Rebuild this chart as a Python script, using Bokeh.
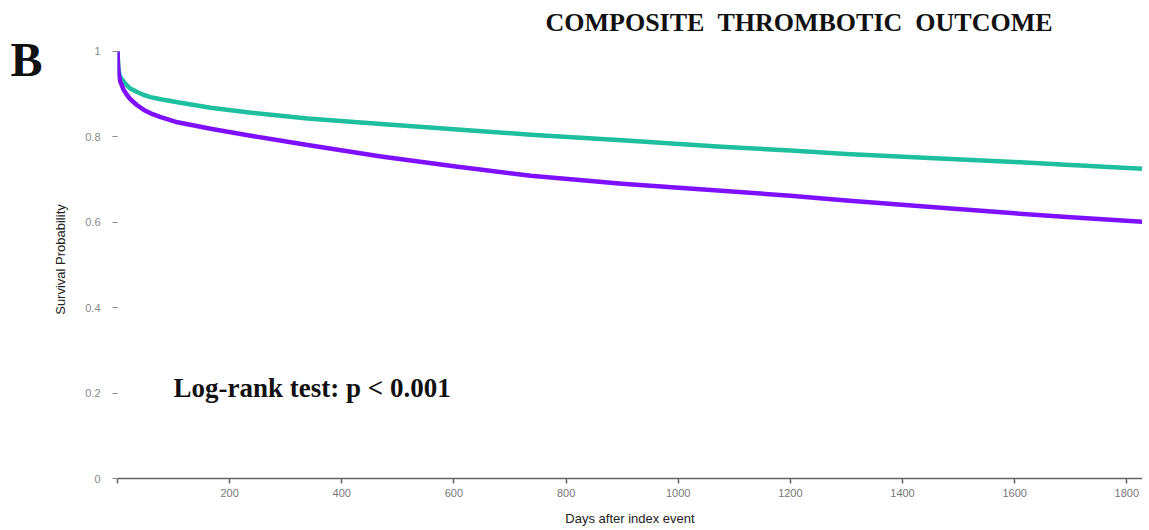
from bokeh.plotting import figure
from bokeh.models import Label, FixedTicker, Range1d, LinearAxis
from bokeh.embed import file_html
from bokeh.resources import INLINE

days = [0, 1, 2.5, 5, 11, 17, 23, 35, 47, 59, 77, 107, 166, 235, 339, 470,
        600, 737, 900, 1077, 1200, 1300, 1457, 1600, 1700, 1830]
teal_surv = [1.0, 0.975, 0.952, 0.94, 0.929, 0.92, 0.913, 0.905, 0.898, 0.893,
             0.888, 0.881, 0.868, 0.857, 0.843, 0.830, 0.818, 0.805, 0.792,
             0.777, 0.768, 0.760, 0.750, 0.741, 0.734, 0.725]
purple_surv = [1.0, 0.962, 0.943, 0.929, 0.91, 0.898, 0.888, 0.874, 0.863, 0.855,
               0.846, 0.834, 0.819, 0.803, 0.781, 0.754, 0.731, 0.709, 0.690,
               0.674, 0.662, 0.651, 0.635, 0.621, 0.612, 0.601]

x_ticks = [0, 200, 400, 600, 800, 1000, 1200, 1400, 1600, 1800]
y_ticks = [0, 0.2, 0.4, 0.6, 0.8, 1.0]
y_tick_labels = ["0", "0.2", "0.4", "0.6", "0.8", "1"]

title_text = "COMPOSITE\u00a0\u00a0THROMBOTIC\u00a0\u00a0OUTCOME"
panel_letter = "B"
logrank_text = "Log-rank test: p < 0.001"

p = figure(width=1142, height=528, output_backend="svg", toolbar_location=None,
           x_range=Range1d(0, 1828), y_range=Range1d(0, 1.0256),
           min_border_left=117, min_border_right=0, min_border_top=40,
           min_border_bottom=47)
p.outline_line_color = None
p.xgrid.grid_line_color = None
p.ygrid.grid_line_color = None

p.title.text = title_text
p.title.align = "left"
p.title.offset = 428
p.title.standoff = 8
p.title.text_font = "Liberation Serif"
p.title.text_font_style = "bold"
p.title.text_font_size = "26px"
p.title.text_color = "#111111"

p.line(days, teal_surv, line_color="#1dbf9f", line_width=4.5, line_join="round")
p.line(days, purple_surv, line_color="#7f0fff", line_width=4.5, line_join="round")

# x axis
p.xaxis.ticker = FixedTicker(ticks=x_ticks)
p.xaxis.major_label_overrides = {0: ""}
p.xaxis.axis_line_color = "#666666"
p.xaxis.axis_line_width = 1.5
p.xaxis.major_tick_line_color = "#666666"
p.xaxis.major_tick_line_width = 1.5
p.xaxis.major_tick_in = 0
p.xaxis.major_tick_out = 5
p.xaxis.minor_tick_line_color = None
p.xaxis.major_label_text_font = "Liberation Sans"
p.xaxis.major_label_text_font_size = "11px"
p.xaxis.major_label_text_color = "#777777"
p.xaxis.major_label_standoff = 5
p.xaxis.axis_label = "Days after index event"
p.xaxis.axis_label_text_font = "Liberation Sans"
p.xaxis.axis_label_text_font_style = "normal"
p.xaxis.axis_label_text_font_size = "13px"
p.xaxis.axis_label_text_color = "#222222"
p.xaxis.axis_label_standoff = 11

# y axis
p.yaxis.ticker = FixedTicker(ticks=y_ticks)
p.yaxis.major_label_overrides = {t: l for t, l in zip(y_ticks, y_tick_labels)}
p.yaxis.axis_line_color = None
p.yaxis.major_tick_line_color = "#888888"
p.yaxis.major_tick_line_width = 1
p.yaxis.major_tick_in = 0
p.yaxis.major_tick_out = 5
p.yaxis.minor_tick_line_color = None
p.yaxis.major_label_text_font = "Liberation Sans"
p.yaxis.major_label_text_font_size = "11px"
p.yaxis.major_label_text_color = "#888888"
p.yaxis.major_label_standoff = 12
p.yaxis.axis_label = "Survival Probability"
p.yaxis.axis_label_text_font = "Liberation Sans"
p.yaxis.axis_label_text_font_style = "normal"
p.yaxis.axis_label_text_font_size = "13px"
p.yaxis.axis_label_text_color = "#222222"
p.yaxis.axis_label_standoff = 14

# panel letter as the label of an invisible outer axis; blank lines below it
# lift the letter to the top-left corner
letter_text = panel_letter + "\n\u00a0" * 7
letter_axis = LinearAxis(ticker=FixedTicker(ticks=[]),
                         axis_line_color=None, major_tick_line_color=None,
                         minor_tick_line_color=None,
                         major_label_text_font_size="0px",
                         axis_label=letter_text,
                         axis_label_orientation="horizontal",
                         axis_label_standoff=8,
                         axis_label_text_font="Liberation Serif",
                         axis_label_text_font_style="bold",
                         axis_label_text_font_size="48px",
                         axis_label_text_line_height=1.08,
                         axis_label_text_color="#111111")
p.add_layout(letter_axis, "left")

p.add_layout(Label(x=56, y=91, x_units="screen", y_units="screen",
                   text=logrank_text, text_font="Liberation Serif",
                   text_font_style="bold", text_font_size="27px",
                   text_color="#111111", text_align="left",
                   text_baseline="middle"))

open("out.html", "w").write(file_html(p, INLINE))
